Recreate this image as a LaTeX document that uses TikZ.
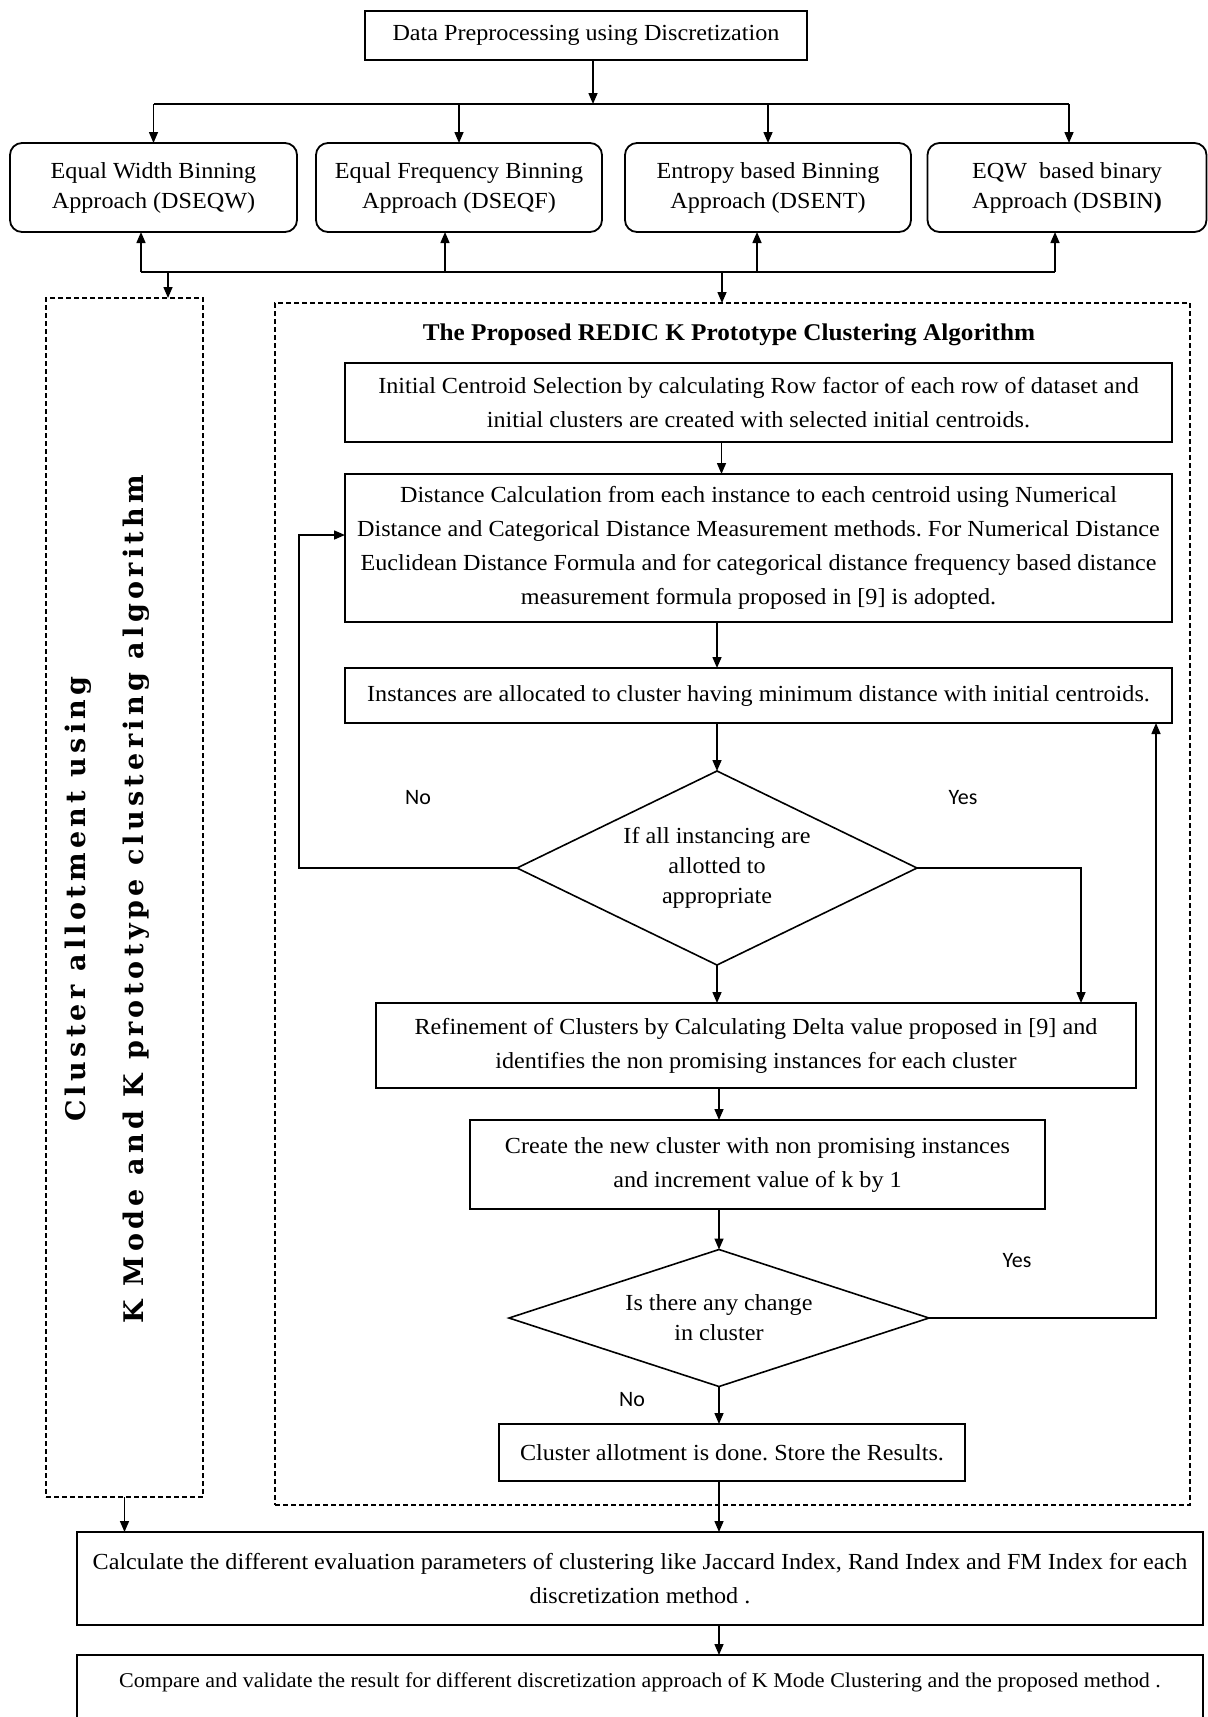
\documentclass[tikz,border=0pt]{standalone}
\usepackage{fontspec}
\setmainfont{Liberation Serif}[FakeStretch=1.05]
\newfontfamily\labelfont{Carlito}
\newfontfamily\vertfont{DejaVu Serif}[LetterSpace=16]
\usetikzlibrary{shapes.geometric,arrows.meta}
\begin{document}
\frenchspacing
\begin{tikzpicture}[x=1pt,y=-1pt,
  every node/.style={inner sep=0pt, outer sep=0pt},
  boxs/.style={draw, line width=1.8pt, align=center, font=\fontsize{23}{34}\selectfont},
  rndbox/.style={boxs, rounded corners=12pt, font=\fontsize{23}{30}\selectfont},
  dec/.style={draw, line width=1.6pt, shape=diamond, align=center, font=\fontsize{23}{30}\selectfont},
  dbox/.style={draw, line width=1.3pt, dash pattern=on 5pt off 3pt},
  arr/.style={line width=1.5pt, -{Triangle[length=11pt,width=9pt]}},
  ln/.style={line width=1.5pt},
  yn/.style={font=\labelfont\fontsize{22}{26}\selectfont},
  vtext/.style={rotate=90, font=\vertfont\bfseries\fontsize{27}{30}\selectfont},
]
\path[use as bounding box] (0,0) rectangle (1208,1717);
\clip (0,0) rectangle (1208,1717);

% top
\node[boxs, minimum width=442pt, minimum height=49pt] (top) at (586,35.5) {Data Preprocessing using Discretization};

\node[rndbox, minimum width=287pt, minimum height=89pt] (b1) at (153.5,187.5) {Equal Width Binning\\Approach (DSEQW)};
\node[rndbox, minimum width=286pt, minimum height=89pt] (b2) at (459,187.5) {Equal Frequency Binning\\Approach (DSEQF)};
\node[rndbox, minimum width=286pt, minimum height=89pt] (b3) at (768,187.5) {Entropy based Binning\\Approach (DSENT)};
\node[rndbox, minimum width=279pt, minimum height=89pt] (b4) at (1067,187.5) {EQW\ \ based binary\\Approach (DSBIN\textbf{)}};

\coordinate (j0) at (593,104);
\draw[arr] (top.south -| j0) -- (j0);
\draw[ln] (b1.north |- j0) -- ([xshift=2pt]b4.north |- j0);
\foreach \n in {b1,b2,b3} \draw[arr] (\n.north |- j0) -- (\n.north);
\draw[arr] ([xshift=2pt]b4.north |- j0) -- ([xshift=2pt]b4.north);

\coordinate (j1) at (141,272);
\coordinate (j2) at (1055,272);
\draw[ln] (j1) -- (j2);
\draw[arr] (j1) -- (b1.south -| j1);
\draw[arr] ([xshift=-14pt]b2.south |- j1) -- ([xshift=-14pt]b2.south);
\draw[arr] ([xshift=-11pt]b3.south |- j1) -- ([xshift=-11pt]b3.south);
\draw[arr] (j2) -- (b4.south -| j2);

% dashed groups
\node[dbox, minimum width=157pt, minimum height=1199pt] (lgrp) at (124.5,897.5) {};
\node[dbox, minimum width=915pt, minimum height=1202pt] (rgrp) at (732.5,904) {};
\draw[arr] ([xshift=43.5pt]lgrp.north |- j1) -- ([xshift=43.5pt]lgrp.north);
\draw[arr] ([xshift=-10.5pt]rgrp.north |- j1) -- ([xshift=-10.5pt]rgrp.north);

\node[vtext] (v1) at (78,899) {Cluster allotment using};
\node[vtext] (v2) at (136,899) {K Mode and K prototype clustering algorithm};

\node[font=\bfseries\fontsize{24}{28}\selectfont] (title) at (729,335) {The Proposed REDIC K Prototype Clustering Algorithm};

\node[boxs, minimum width=827pt, minimum height=79pt] (A) at (758.5,402.5) {Initial Centroid Selection by calculating Row factor of each row of dataset and\\initial clusters are created with selected initial centroids.};
\node[boxs, minimum width=827pt, minimum height=148pt] (B) at (758.5,548) {Distance Calculation from each instance to each centroid using Numerical\\Distance and Categorical Distance Measurement methods. For Numerical Distance\\Euclidean Distance Formula and for categorical distance frequency based distance\\measurement formula proposed in [9] is adopted.};
\node[boxs, minimum width=827pt, minimum height=55pt] (C) at (758.5,695.5) {Instances are allocated to cluster having minimum distance with initial centroids.};
\node[dec, aspect=2, minimum width=400pt, minimum height=194pt] (D1) at (717,868) {If all instancing are\\allotted to\\appropriate};
\node[boxs, minimum width=760pt, minimum height=85pt] (E) at (756,1045.5) {Refinement of Clusters by Calculating Delta value proposed in [9] and\\identifies the non promising instances for each cluster};
\node[boxs, minimum width=575pt, minimum height=89pt] (F) at (757.5,1164.5) {Create the new cluster with non promising instances\\and increment value of k by 1};
\node[dec, aspect=3, minimum width=420pt, minimum height=137pt] (D2) at (719,1318) {Is there any change\\in cluster};
\node[boxs, minimum width=466pt, minimum height=57pt] (G) at (732,1452.5) {Cluster allotment is done. Store the Results.};
\node[boxs, minimum width=1126pt, minimum height=93pt] (H) at (640,1578.5) {Calculate the different evaluation parameters of clustering like Jaccard Index, Rand Index and FM Index for each\\discretization method .};
\node[boxs, minimum width=1126pt, minimum height=85pt, font=\fontsize{21}{34}\selectfont] (I) at (640,1697.5) {Compare and validate the result for different discretization approach of K Mode Clustering and the proposed method .\\\mbox{}};

\node[yn] (no1) at (418,798) {No};
\node[yn] (yes1) at (963,798) {Yes};
\node[yn] (yes2) at (1017,1261) {Yes};
\node[yn] (no2) at (632,1399) {No};

\draw[arr] ([xshift=-37pt]A.south) -- ([xshift=-37pt]A.south |- B.north);
\draw[arr] (D1.north |- B.south) -- (D1.north |- C.north);
\draw[arr] (D1.north |- C.south) -- (D1.north);
\coordinate (lp) at (299,868);
\draw[arr] (D1.west) -- (lp) |- ([yshift=13pt]B.west);
\coordinate (rp) at (1081,868);
\draw[arr] (D1.east) -- (rp) -- (rp |- E.north);
\draw[arr] (D1.south) -- (D1.south |- E.north);
\draw[arr] (D2.north |- E.south) -- (D2.north |- F.north);
\draw[arr] (D2.north |- F.south) -- (D2.north);
\coordinate (rq) at (1156,1318);
\draw[arr] (D2.east) -- (rq) -- (rq |- C.south);
\draw[arr] (D2.south) -- (D2.south |- G.north);
\draw[arr] (D2.south |- G.south) -- (D2.south |- H.north);
\draw[arr] (lgrp.south) -- (lgrp.south |- H.north);
\draw[arr] (D2.south |- H.south) -- (D2.south |- I.north);
\end{tikzpicture}
\end{document}
